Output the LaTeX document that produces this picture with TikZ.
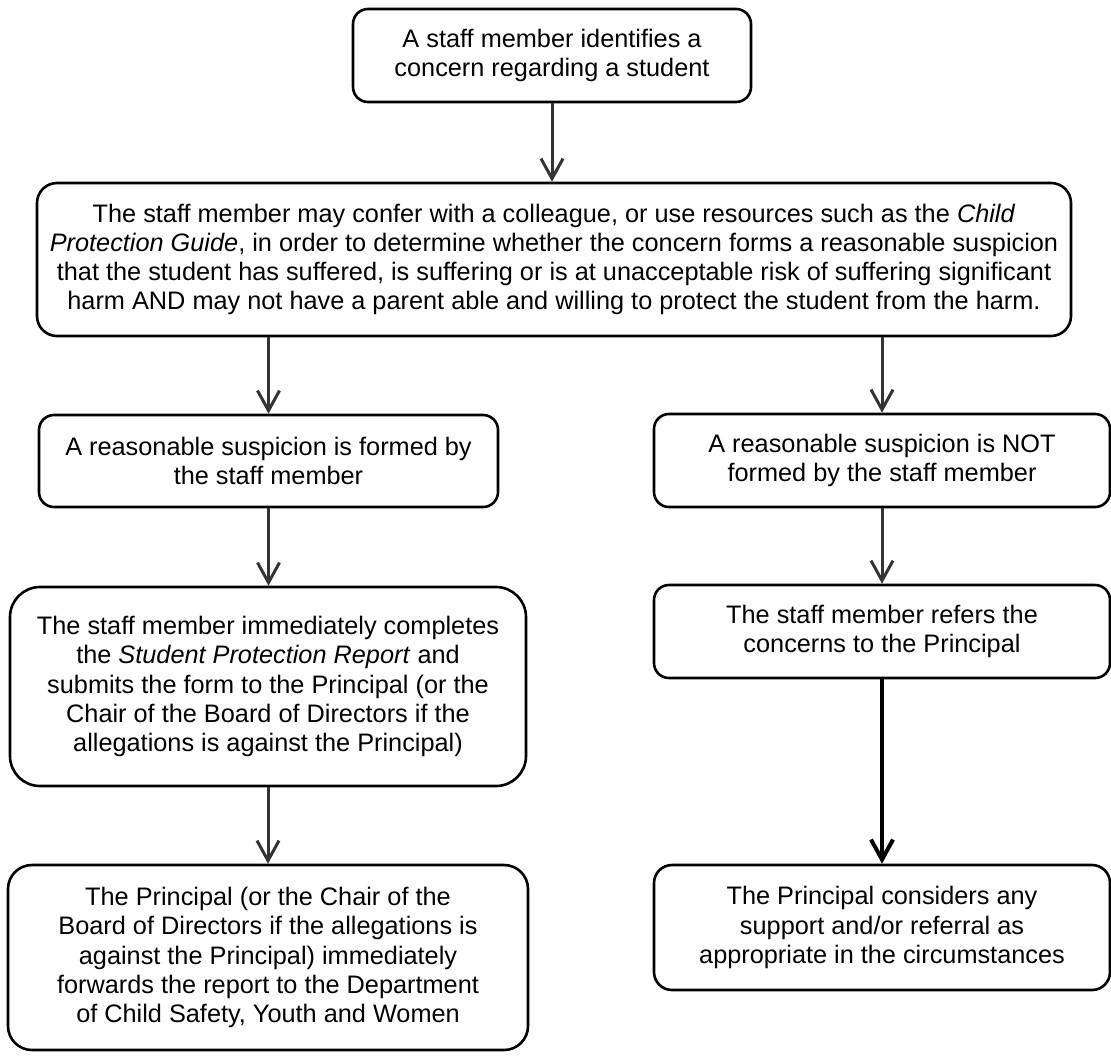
\documentclass[tikz,border=0pt]{standalone}
\usepackage{fontspec}
\setmainfont{Liberation Sans}
\usetikzlibrary{arrows.meta}
\colorlet{myarrow}{black!80}

\begin{document}
\begin{tikzpicture}[x=0.5pt,y=-0.5pt]
\useasboundingbox (0,0) rectangle (1111,1055);
\tikzset{BoxStyle/.style ={draw, line width=1.3pt, rounded corners=7.5pt, align=center, inner sep=0, font=\fontsize{12.65}{14.6}\selectfont}}
\tikzset{ArrowStyle/.style ={draw=myarrow, line width=1.5pt, -{Straight Barb[length=10pt,width=11pt]}}}
\node[BoxStyle, minimum width=199pt, minimum height=46.5pt] (concern) at (552,55.5)
  {A staff member identifies a\\concern regarding a student};
\node[BoxStyle, rounded corners=10pt, minimum width=517pt, minimum height=76.5pt] (confer) at (554,259.5)
  {The staff member may confer with a colleague, or use resources such as the \textit{Child}\\
   \textit{Protection Guide}, in order to determine whether the concern forms a reasonable suspicion\\
   that the student has suffered, is suffering or is at unacceptable risk of suffering significant\\
   harm AND may not have a parent able and willing to protect the student from the harm.};
\node[BoxStyle, minimum width=229.5pt, minimum height=46pt] (formed) at (268.5,461)
  {A reasonable suspicion is formed by\\the staff member};
\node[BoxStyle, minimum width=228pt, minimum height=46.5pt] (notformed) at (882,460.5)
  {A reasonable suspicion is NOT\\formed by the staff member};
\node[BoxStyle, rounded corners=15pt, minimum width=258pt, minimum height=99.5pt] (report) at (268,686.5)
  {The staff member immediately completes\\the \textit{Student Protection Report} and\\
   submits the form to the Principal (or the\\Chair of the Board of Directors if the\\
   allegations is against the Principal)};
\node[BoxStyle, minimum width=228pt, minimum height=46.5pt] (refers) at (882,631.5)
  {The staff member refers the\\concerns to the Principal};
\node[BoxStyle, rounded corners=12pt, minimum width=260pt, minimum height=92.5pt] (forwards) at (268,957.5)
  {The Principal (or the Chair of the\\Board of Directors if the allegations is\\
   against the Principal) immediately\\forwards the report to the Department\\
   of Child Safety, Youth and Women};
\node[BoxStyle, rounded corners=9pt, minimum width=228pt, minimum height=62.5pt] (considers) at (882,927.5)
  {The Principal considers any\\support and/or referral as\\appropriate in the circumstances};
\draw[ArrowStyle] (concern.south) -- (concern.south |- confer.north);
\draw[ArrowStyle] (formed.north |- confer.south) -- (formed.north);
\draw[ArrowStyle] (notformed.north |- confer.south) -- (notformed.north);
\draw[ArrowStyle] (formed.south) -- (formed.south |- report.north);
\draw[ArrowStyle] (report.south) -- (report.south |- forwards.north);
\draw[ArrowStyle] (notformed.south) -- (notformed.south |- refers.north);
\draw[ArrowStyle, draw=black, line width=2pt] (refers.south) -- (refers.south |- considers.north);
\end{tikzpicture}
\end{document}
